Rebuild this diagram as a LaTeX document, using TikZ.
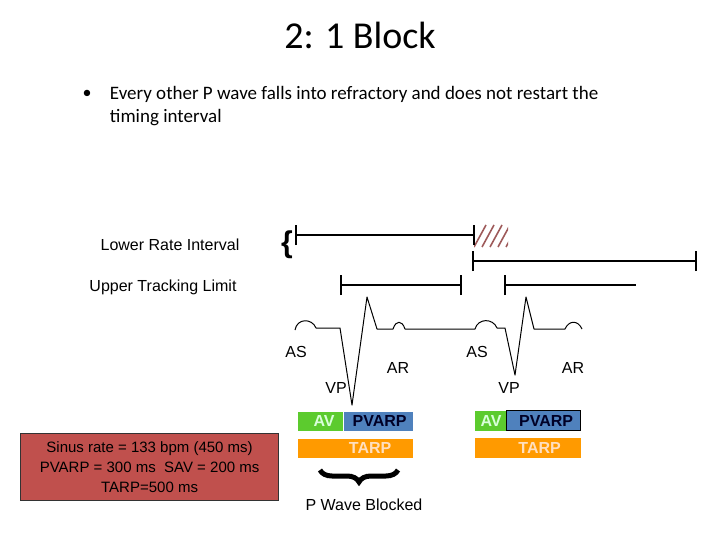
\documentclass[tikz,border=0pt]{standalone}
\usepackage{fontspec}
\setmainfont{Liberation Sans}
\newfontfamily\calib{Carlito}
\usetikzlibrary{decorations.pathreplacing}
\definecolor{boxred}{HTML}{C0504D}
\definecolor{avgreen}{HTML}{5CCB2E}
\definecolor{pvblue}{HTML}{4F81BD}
\definecolor{taorange}{HTML}{FF9A00}
\definecolor{hatch}{HTML}{9E5A5A}
\begin{document}
\begin{tikzpicture}[x=1pt,y=-1pt,line width=1.2pt]
\useasboundingbox (0,0) rectangle (720,540);
\tikzset{bar/.style={inner sep=0pt,anchor=north west,font=\bfseries\fontsize{16}{16}\selectfont},
lbl/.style={font=\fontsize{16}{16}\selectfont}}
\path
(360,35) node[font=\calib\fontsize{38}{38}\selectfont] (title) {2: 1 Block}
(87,94)  node[font=\calib\fontsize{18}{18}\selectfont] (dot) {\textbullet}
(106,94) node[anchor=west,font=\calib\fontsize{19}{19}\selectfont] (l1) {Every other P wave falls into refractory and does not restart the}
(106,118) node[anchor=west,font=\calib\fontsize{19}{19}\selectfont] (l2) {timing interval}
(170,245) node[lbl] (lri) {Lower Rate Interval}
(163,287) node[lbl] (utl) {Upper Tracking Limit}
(287,245) node[font=\bfseries\fontsize{30}{30}\selectfont] (br) {\{}
(296,352) node[lbl] (as1) {AS}
(398,368) node[lbl] (ar1) {AR}
(336,388) node[lbl] (vp1) {VP}
(477,352) node[lbl] (as2) {AS}
(573,368) node[lbl] (ar2) {AR}
(509,388) node[lbl] (vp2) {VP}
(364,505) node[lbl] (pwb) {P Wave Blocked};

% timing intervals
\coordinate (a1) at (296,235); \coordinate (a2) at (474,235);
\coordinate (b1) at (473,261); \coordinate (b2) at (696,261);
\coordinate (c1) at (341,285); \coordinate (c2) at (461,285);
\coordinate (d1) at (505,285); \coordinate (d2) at (636,285);
\begin{scope}
\clip (474,225) rectangle (508,247);
\foreach \h in {474,482,...,514}
  \draw[hatch,line width=1.6pt] (\h,247)--(\h+12,225);
\end{scope}
\draw (a1)--(a2) (b1)--(b2) (c1)--(c2) (d1)--(d2);
\foreach \p in {a1,a2,b1,b2,c1,c2,d1}
  \draw ([yshift=-10]\p)--([yshift=10]\p);

% ECG
\draw[line width=1pt,line join=round]
(295,330) .. controls (297,318) and (312,318) .. (316,328) -- (340,328) -- (352,405) -- (367,297) -- (377,329)
-- (393,329) .. controls (396,320) and (402,320) .. (405,329) -- (475,329)
.. controls (478,318) and (493,318) .. (497,328) -- (505,328) -- (515,375) -- (526,297) -- (534,329)
-- (565,329) .. controls (569,320) and (578,320) .. (582,329);

% refractory bars
\path
(297,411) node[bar,fill=avgreen,text=green!15,minimum width=45,minimum height=19] (av1) {\hspace{8pt}AV}
(343,411) node[bar,fill=pvblue,text=black!85!blue,minimum width=69,minimum height=19] (pv1) {\hspace{3pt}PVARP}
(297,438) node[bar,fill=taorange,text=orange!25,minimum width=115,minimum height=19] (ta1) {\hspace{30pt}TARP}
(474,410) node[bar,fill=avgreen,text=green!15,minimum width=32,minimum height=20] (av2) {\hspace{1pt}AV}
(506,410) node[bar,fill=pvblue,draw=black,text=black!85!blue,minimum width=74,minimum height=20] (pv2) {\hspace{5pt}PVARP}
(474,437) node[bar,fill=taorange,text=orange!25,minimum width=106,minimum height=20] (ta2) {\hspace{24pt}TARP};

\draw[line width=5pt,decorate,decoration={brace,mirror,amplitude=12pt}] (320,470)--(398,470);

% info box
\node[draw=black!80,fill=boxred,minimum width=258,minimum height=67,anchor=north west,
  align=center,inner sep=0pt,font=\fontsize{15}{20}\selectfont] (info) at (20,433)
  {Sinus rate = 133 bpm (450 ms)\\PVARP = 300 ms\ \ SAV = 200 ms\\TARP=500 ms};
\end{tikzpicture}
\end{document}
